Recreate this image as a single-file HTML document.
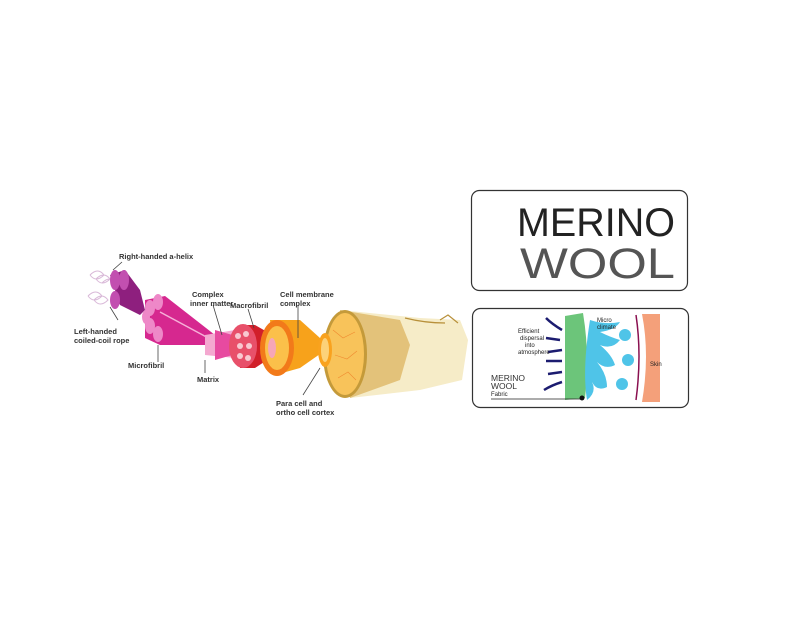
<!DOCTYPE html>
<html><head><meta charset="utf-8"><style>
html,body{margin:0;padding:0;background:#fff;width:800px;height:620px;overflow:hidden}
svg{display:block}
text{font-family:"Liberation Sans",sans-serif}
</style></head><body>
<svg width="800" height="620" viewBox="0 0 800 620" xmlns="http://www.w3.org/2000/svg">
<g fill="none" stroke="#d9b8d8" stroke-width="1">
<path d="M90 275 q8 -8 14 0 q-8 8 -14 0 m6 4 q8 -8 14 0 q-8 8 -14 0 m6 4 q8-8 14 0"/>
<path d="M88 296 q8 -8 14 0 q-8 8 -14 0 m6 4 q8 -8 14 0 q-8 8 -14 0"/>
</g>
<polygon points="110,275 125,270 140,290 145,310 140,315 120,305" fill="#8e1f7e"/>
<ellipse cx="115" cy="280" rx="5" ry="10" fill="#c24fb0"/>
<ellipse cx="124" cy="280" rx="5" ry="10" fill="#c24fb0"/>
<ellipse cx="115" cy="300" rx="5" ry="9" fill="#c24fb0"/>
<polygon points="145,300 165,296 215,335 212,345 160,345 145,338" fill="#d6288f"/>
<path d="M160 312 L212 340" stroke="#f6b0d8" stroke-width="1.5"/>
<ellipse cx="150" cy="308" rx="5" ry="8" fill="#ee88c8"/>
<ellipse cx="158" cy="302" rx="5" ry="8" fill="#ee88c8"/>
<ellipse cx="150" cy="326" rx="5" ry="8" fill="#ee88c8"/>
<ellipse cx="158" cy="334" rx="5" ry="8" fill="#ee88c8"/>
<ellipse cx="146" cy="317" rx="4" ry="7" fill="#ee88c8"/>
<polygon points="205,335 235,330 250,345 235,358 205,355" fill="#f4a8d0"/>
<polygon points="215,330 250,340 250,350 215,360" fill="#e74aa0"/>
<polygon points="240,325 255,325 290,345 255,368 240,368" fill="#d11f2a"/>
<ellipse cx="243" cy="346" rx="14" ry="22" fill="#e8506a"/>
<g fill="#f8c8d0"><circle cx="238" cy="336" r="3"/><circle cx="246" cy="334" r="3"/><circle cx="240" cy="346" r="3"/><circle cx="249" cy="346" r="3"/><circle cx="240" cy="356" r="3"/><circle cx="248" cy="358" r="3"/></g>
<polygon points="270,320 300,320 330,347 300,368 275,375" fill="#f7a21b"/>
<ellipse cx="277" cy="348" rx="17" ry="28" fill="#f27a1a"/>
<ellipse cx="277" cy="348" rx="12" ry="22" fill="#fbc04a"/>
<ellipse cx="272" cy="348" rx="4" ry="10" fill="#f6a6b8"/>
<polygon points="340,310 420,318 460,320 468,340 462,380 420,390 350,398" fill="#f6ecc8"/>
<polygon points="340,310 400,320 410,345 400,380 350,398" fill="#e3c27a"/>
<ellipse cx="345" cy="354" rx="22" ry="44" fill="#c49a3a"/>
<ellipse cx="345" cy="354" rx="19" ry="41" fill="#f8c35a"/>
<g stroke="#f08a30" stroke-width="0.6" fill="none"><path d="M333 330 l10 8 l12 -6 M335 355 l12 4 l10 -8 M338 378 l10 -6 l8 8"/></g>
<ellipse cx="325" cy="350" rx="7" ry="17" fill="#f9a21e"/>
<ellipse cx="325" cy="350" rx="4" ry="12" fill="#fcd27a"/>
<path d="M405 318 q20 5 40 5 M440 320 l8 -5 l10 8" stroke="#b8903a" fill="none" stroke-width="1.2"/>
<g stroke="#444" stroke-width="0.8" fill="none">
<line x1="113" y1="270" x2="122" y2="262"/>
<line x1="110" y1="307" x2="118" y2="320"/>
<line x1="158" y1="345" x2="158" y2="362"/>
<line x1="205" y1="360" x2="205" y2="373"/>
<line x1="213" y1="305" x2="222" y2="335"/>
<line x1="248" y1="309" x2="254" y2="328"/>
<line x1="298" y1="306" x2="298" y2="338"/>
<line x1="303" y1="395" x2="320" y2="368"/>
</g>
<g font-size="7.5" fill="#333" font-weight="bold">
<text x="119" y="259">Right-handed a-helix</text>
<text x="74" y="334">Left-handed</text>
<text x="74" y="343">coiled-coil rope</text>
<text x="128" y="368">Microfibril</text>
<text x="197" y="382">Matrix</text>
<text x="192" y="297">Complex</text>
<text x="190" y="306">inner matter</text>
<text x="230" y="308">Macrofibril</text>
<text x="280" y="297">Cell membrane</text>
<text x="280" y="306">complex</text>
<text x="276" y="406">Para cell and</text>
<text x="276" y="415">ortho cell cortex</text>
</g>
<rect x="471.5" y="190.5" width="216" height="100" rx="8" fill="#fff" stroke="#333" stroke-width="1.2"/>
<text x="517" y="236" font-size="40" fill="#222" textLength="158" lengthAdjust="spacingAndGlyphs">MERINO</text>
<text x="520" y="278" font-size="43" fill="#555" textLength="155" lengthAdjust="spacingAndGlyphs">WOOL</text>
<rect x="472.5" y="308.5" width="216" height="99" rx="8" fill="#fff" stroke="#333" stroke-width="1.2"/>
<path d="M565 316 L583 313 Q590 355 585 398 L565 400 Z" fill="#6cc57a"/>
<g fill="#4fc4e8">
<path d="M590 320 q15 5 30 2 q-5 8 -20 10 q10 5 20 8 q-8 10 -20 5 q12 10 15 20 q-10 5 -18 -3 q10 12 10 25 q-10 5 -15 -5 q5 10 -5 18 q-5 -30 3 -80z"/>
<circle cx="625" cy="335" r="6"/><circle cx="628" cy="360" r="6"/><circle cx="622" cy="384" r="6"/>
</g>
<path d="M636 315 Q642 355 636 400" stroke="#8a1050" stroke-width="1.5" fill="none"/>
<path d="M642 314 L660 314 L660 402 L642 402 Q650 355 642 314Z" fill="#f4a07a"/>
<g stroke="#1c1c70" stroke-width="2.5" fill="none">
<path d="M562 330 q-10 -6 -16 -12"/><path d="M560 340 l-14 -2"/><path d="M562 350 l-14 2"/>
<path d="M562 361 l-16 0"/><path d="M562 372 l-14 2"/><path d="M562 382 q-10 3 -18 8"/>
</g>
<g font-size="6" fill="#222">
<text x="518" y="333">Efficient</text><text x="520" y="340">dispersal</text><text x="525" y="347">into</text><text x="518" y="354">atmosphere</text>
<text x="597" y="322">Micro</text><text x="597" y="329">climate</text>
<text x="650" y="366">Skin</text>
<text x="491" y="396">Fabric</text>
</g>
<text x="491" y="381" font-size="8.5" fill="#333">MERINO</text>
<text x="491" y="389" font-size="8.5" fill="#333">WOOL</text>
<line x1="491" y1="399" x2="582" y2="399" stroke="#222" stroke-width="0.8"/>
<circle cx="582" cy="398" r="2.5" fill="#111"/>
</svg>
</body></html>
